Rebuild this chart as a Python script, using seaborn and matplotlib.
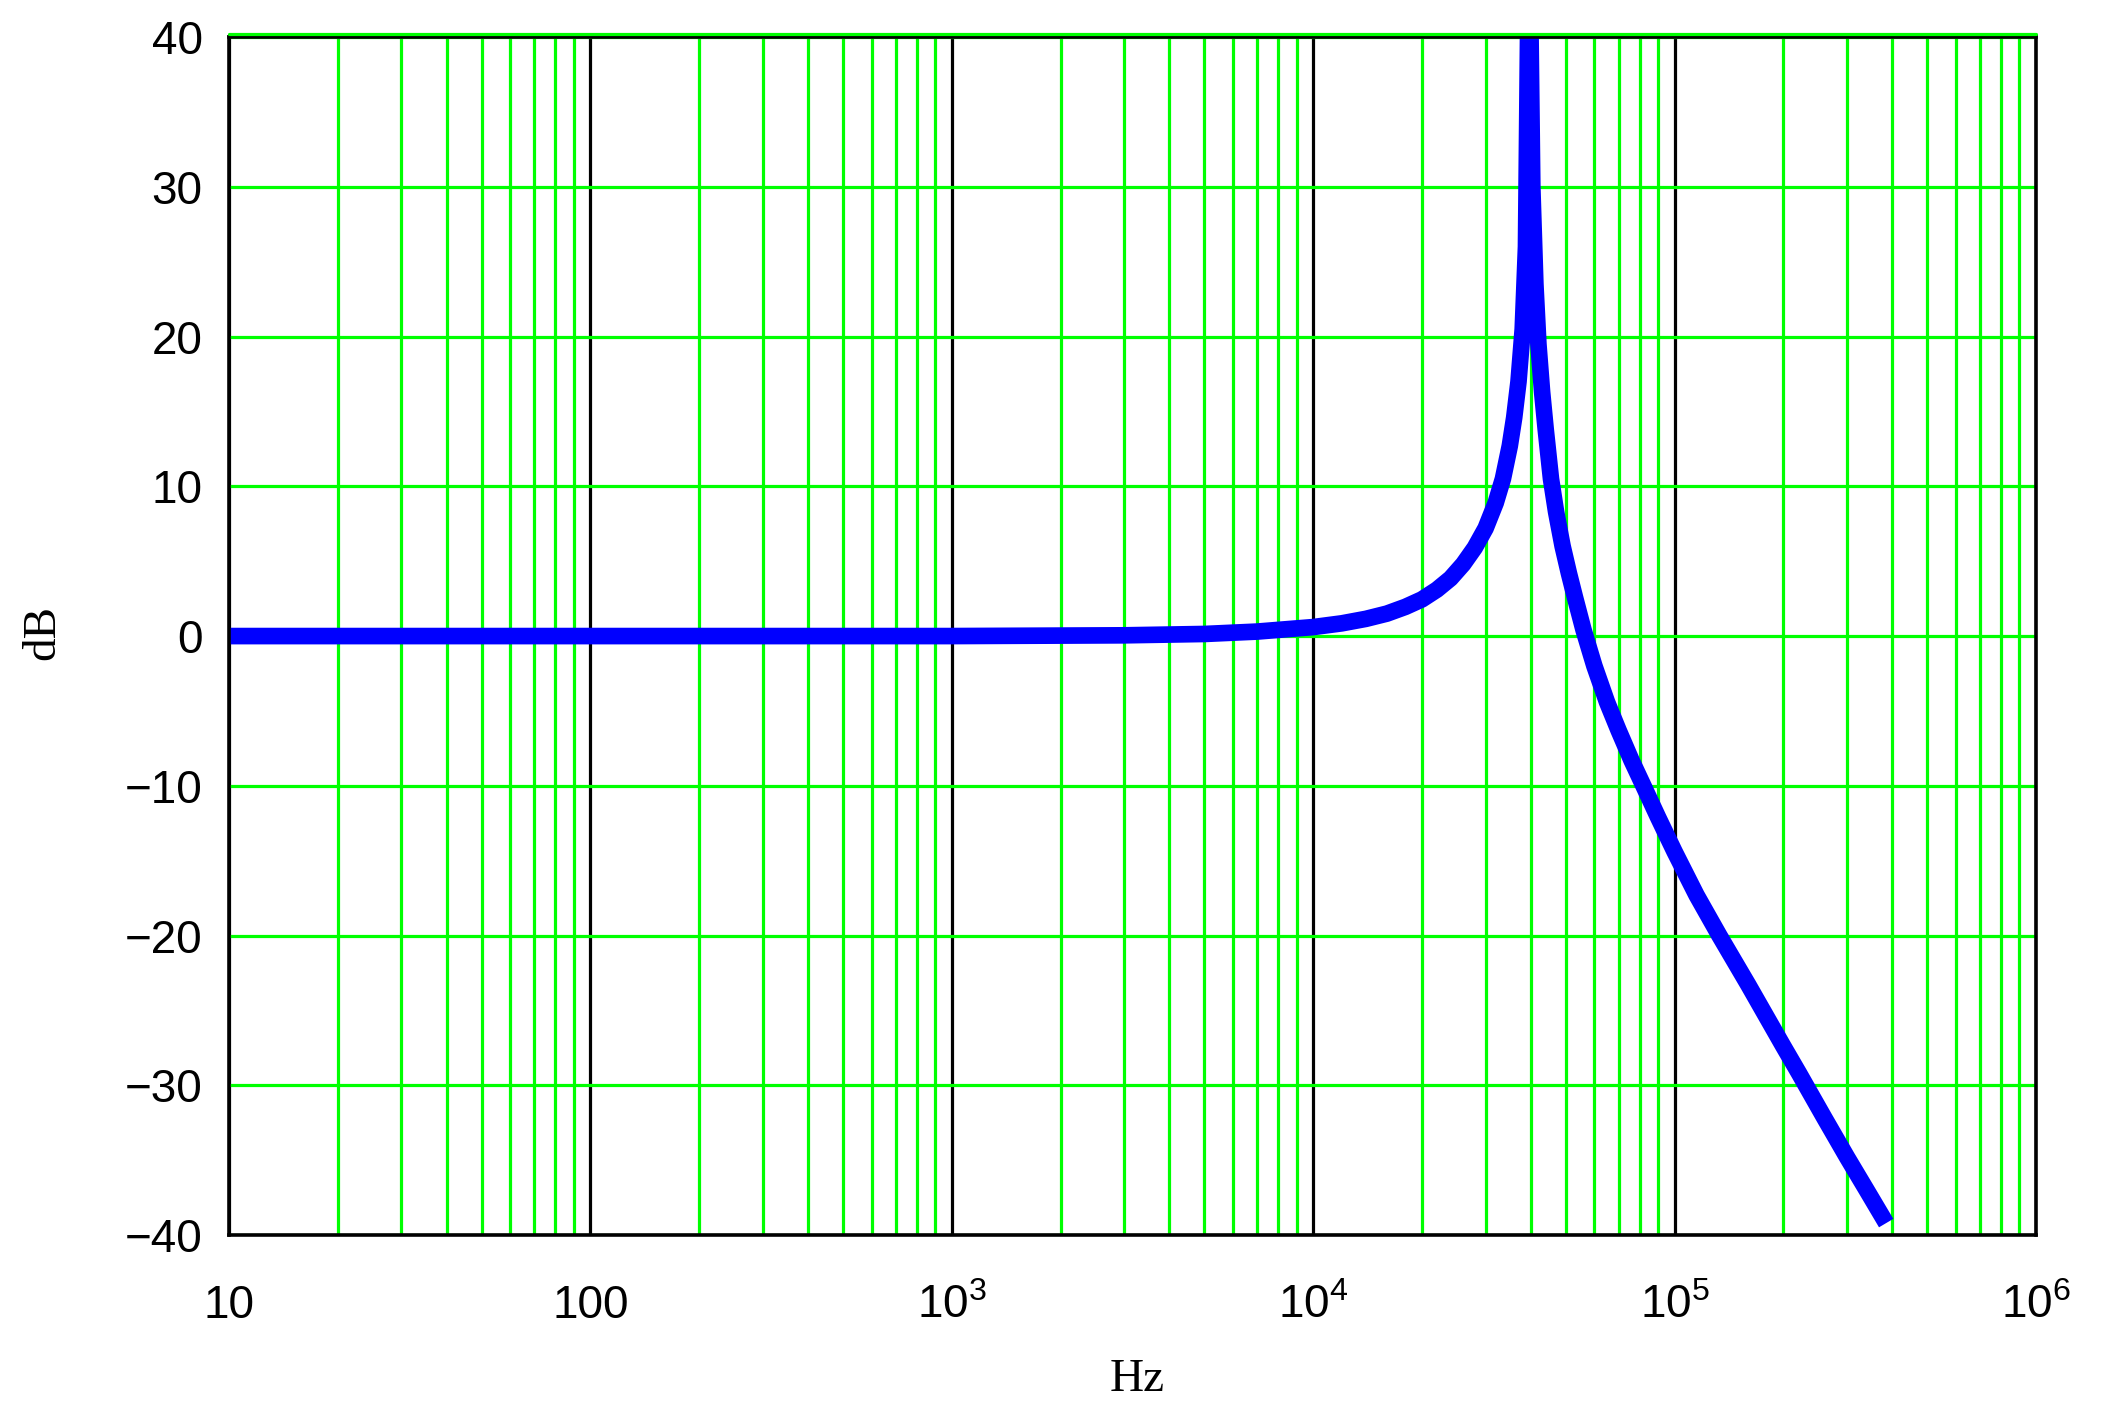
import matplotlib.pyplot as plt
import matplotlib.transforms as mtransforms
from matplotlib.ticker import FixedLocator, FixedFormatter, LogLocator, NullFormatter
import pandas as pd
import seaborn as sns

# Dados (frequência em Hz, ganho em dB)
freq_hz = [10, 100, 1000, 3000, 5000, 7000, 10000, 12000, 14000, 16000,
           18000, 20000, 22000, 24000, 26000, 28000, 30000, 32000, 33500, 35000,
           36000, 37000, 38000, 38800, 39600, 40400, 41200, 42000, 43000, 44000,
           45500, 47000, 49000, 51000, 53000, 56000, 60000, 65000, 70000, 76000,
           82000, 90000, 100000, 115000, 133000, 160000, 200000, 221000, 260000,
           300000, 340000, 385000]
ganho_db = [0.0, 0.0, 0.0, 0.05, 0.14, 0.3, 0.6, 0.85, 1.15, 1.5,
            1.95, 2.45, 3.1, 3.85, 4.8, 5.9, 7.2, 8.9, 10.5, 12.7,
            14.6, 17.0, 20.5, 26.0, 48.0, 30.0, 23.5, 19.5, 16.3, 13.8,
            10.5, 8.3, 6.0, 4.2, 2.6, 0.4, -2.0, -4.4, -6.3, -8.3,
            -10.0, -12.1, -14.4, -17.3, -20.0, -23.3, -27.4, -29.2, -32.2,
            -34.8, -37.0, -39.2]

x_ticks = [10, 100, 1e3, 1e4, 1e5, 1e6]
x_labels = ['10', '100', r'$10^{3}$', r'$10^{4}$', r'$10^{5}$', r'$10^{6}$']
y_ticks = [-40, -30, -20, -10, 0, 10, 20, 30, 40]

df = pd.DataFrame({'freq': freq_hz, 'db': ganho_db})

sns.set_style('white')
plt.rcParams['font.family'] = ['Liberation Sans', 'DejaVu Sans']
plt.rcParams['mathtext.fontset'] = 'custom'
plt.rcParams['mathtext.rm'] = 'Liberation Sans'
plt.rcParams['text.color'] = 'black'
plt.rcParams['xtick.color'] = 'black'
plt.rcParams['ytick.color'] = 'black'

verde = '#00ff00'
azul = '#0000ff'

fig, ax = plt.subplots(figsize=(21.02, 14.26), dpi=100)
fig.subplots_adjust(left=0.1089, right=0.9686, bottom=0.1339, top=0.974)

sns.lineplot(data=df, x='freq', y='db', color=azul, linewidth=12, ax=ax,
             solid_capstyle='butt', zorder=5)

ax.set_xscale('log')
ax.set_xlim(10, 1e6)
ax.set_ylim(-40, 40)

# Eixo x: décadas em preto, subdivisões em verde
ax.xaxis.set_major_locator(FixedLocator(x_ticks))
ax.xaxis.set_major_formatter(FixedFormatter(x_labels))
ax.xaxis.set_minor_locator(LogLocator(base=10, subs=range(2, 10), numticks=20))
ax.xaxis.set_minor_formatter(NullFormatter())
ax.set_yticks(y_ticks)

ax.grid(which='minor', axis='x', color=verde, linewidth=2.3)
ax.grid(which='major', axis='x', color='black', linewidth=2.3)
ax.grid(which='major', axis='y', color=verde, linewidth=2.3)
ax.set_axisbelow(True)

# Linha verde logo acima da borda superior
desloc = mtransforms.ScaledTranslation(0, 3 / 100, fig.dpi_scale_trans)
ax.plot([0, 1], [1, 1], transform=ax.transAxes + desloc, color=verde,
        linewidth=2.3, clip_on=False, zorder=6)

for lado in ['left', 'right', 'top', 'bottom']:
    ax.spines[lado].set_visible(True)
    ax.spines[lado].set_color('black')
    ax.spines[lado].set_linewidth(2.6)
    ax.spines[lado].set_zorder(5.5)

ax.tick_params(axis='both', which='both', length=0, labelsize=33,
               labelcolor='black')
ax.tick_params(axis='y', pad=19)
ax.tick_params(axis='x', pad=60)
for rotulo in ax.get_xticklabels():
    rotulo.set_verticalalignment('baseline')

ax.set_xlabel('')
ax.set_ylabel('')
fig.text(1137 / 2102, 1 - 1380 / 1426, 'Hz', ha='center', va='center',
         fontsize=34, family=['Liberation Serif', 'DejaVu Serif'])
fig.text(43 / 2102, 1 - 632 / 1426, 'dB', ha='center', va='center', rotation=90,
         fontsize=34, family=['Liberation Serif', 'DejaVu Serif'])

plt.savefig('out.png', dpi=100)
